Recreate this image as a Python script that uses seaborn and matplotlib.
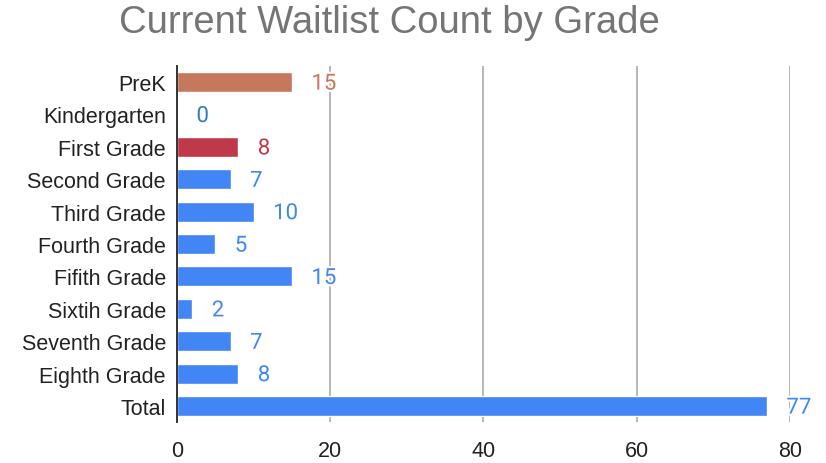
import matplotlib
matplotlib.use("Agg")
import matplotlib.pyplot as plt
import matplotlib.patheffects as pe
import seaborn as sns
import pandas as pd

# chart data
grades = ["PreK", "Kindergarten", "First Grade", "Second Grade", "Third Grade",
          "Fourth Grade", "Fifith Grade", "Sixtih Grade", "Seventh Grade",
          "Eighth Grade", "Total"]
counts = [15, 0, 8, 7, 10, 5, 15, 2, 7, 8, 77]
bar_colors = ["#c5785c", "#2f7dc0", "#c0394a", "#4285f4", "#4285f4", "#4285f4",
              "#4285f4", "#4285f4", "#4285f4", "#4285f4", "#4285f4"]
x_ticks = [0, 20, 40, 60, 80]

sns.set_style("white")
plt.rcParams["font.family"] = ["Liberation Sans", "DejaVu Sans"]

df = pd.DataFrame({"grade": grades, "count": counts})
palette = dict(zip(grades, bar_colors))

fig = plt.figure(figsize=(8.26, 4.64), dpi=100)
ax = fig.add_axes([0.2143, 0.0879, 0.7421, 0.7681])

sns.barplot(data=df, x="count", y="grade", hue="grade", palette=palette,
            legend=False, width=0.62, saturation=1, ax=ax, zorder=3)

ax.set_xlim(0, 80)
ax.set_xticks(x_ticks)
ax.set_xlabel("")
ax.set_ylabel("")
ax.grid(axis="x", color="#b7b7b7", linewidth=1.4, zorder=0)
for s in ["top", "right", "bottom"]:
    ax.spines[s].set_visible(False)
ax.spines["left"].set_color("#333333")
ax.spines["left"].set_linewidth(1.4)
ax.spines["left"].set_zorder(4)
ax.tick_params(axis="both", length=0, labelsize=15.5, colors="#222222", pad=8)
ax.tick_params(axis="x", pad=13)

# value labels with white outline
for i, (v, c) in enumerate(zip(counts, bar_colors)):
    ax.annotate(str(v), xy=(v, i), xytext=(14, -1.5), textcoords="offset points",
                ha="left", va="center", fontsize=16, color=c, clip_on=False,
                annotation_clip=False, zorder=5, family=["Roboto", "DejaVu Sans"],
                path_effects=[pe.withStroke(linewidth=3, foreground="white")])

fig.suptitle("Current Waitlist Count by Grade", x=0.471, y=0.99,
             fontsize=27.5, color="#757575")

fig.savefig("out.png", dpi=100)
